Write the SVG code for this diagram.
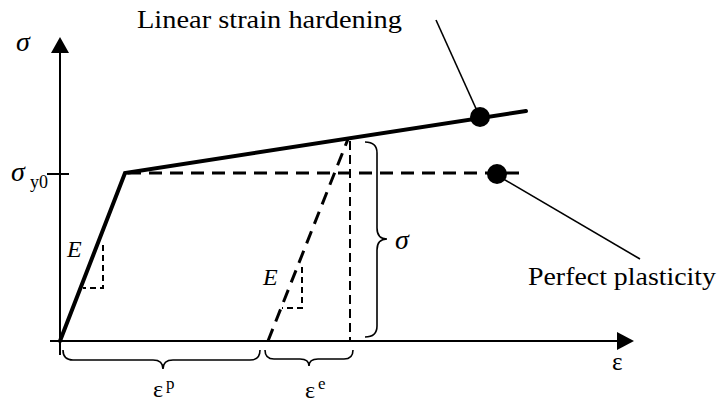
<svg xmlns="http://www.w3.org/2000/svg" width="719" height="405" viewBox="0 0 719 405">
<style>
text{font-family:"Liberation Serif","Times New Roman",serif;fill:#000}
.it{font-style:italic}
.axis{stroke:#000;stroke-width:2;fill:none}
.thick{stroke:#000;stroke-width:4;fill:none;stroke-linecap:round}
.dash{stroke:#000;stroke-width:3;fill:none;stroke-dasharray:13 8}
.dashv{stroke:#000;stroke-width:2;fill:none;stroke-dasharray:9 5}
.dashs{stroke:#000;stroke-width:2;fill:none;stroke-dasharray:6 4}
.lead{stroke:#000;stroke-width:1.6;fill:none}
.brace{stroke:#000;stroke-width:1.6;fill:none}
</style>
<rect width="719" height="405" fill="#fff"/>
<g id="axes">
<line class="axis" x1="60" y1="50" x2="60" y2="355"/>
<polygon points="60,37 51,53 69,53" fill="#000"/>
<line class="axis" x1="50" y1="341" x2="620" y2="341"/>
<polygon points="634,341 617,332 617,350" fill="#000"/>
<line class="axis" x1="47" y1="174" x2="69" y2="174"/>
<text x="16" y="51" font-size="28" class="it">σ</text>
<text x="612" y="370" font-size="25">ε</text>
<text x="11" y="181" font-size="28" class="it">σ</text>
<text x="30" y="188" font-size="18">y0</text>
</g>
<g id="curves">
<polyline class="thick" points="60,341 125,173 526,111"/>
<line class="dash" x1="128" y1="173" x2="522" y2="173"/>
<line class="dash" x1="268" y1="341" x2="348" y2="139"/>
<line class="dashv" x1="350" y1="141" x2="350" y2="341"/>
<polyline class="dashs" points="103,245 103,288 83,288"/>
<polyline class="dashs" points="302,267 302,308 282,308"/>
<text x="67" y="257" font-size="24" class="it">E</text>
<text x="263" y="285" font-size="24" class="it">E</text>
</g>
<g id="braces">
<path class="brace" d="M365,142 Q377,142 377,153 L377,228 Q377,239 387,239 Q377,239 377,250 L377,326 Q377,337 365,337"/>
<text x="395" y="249" font-size="28" class="it">σ</text>
<path class="brace" d="M63,350 Q63,360 73,360 L153,360 Q163,360 163,369 Q163,360 173,360 L250,360 Q260,360 260,350"/>
<text x="153" y="397" font-size="24">ε</text>
<text x="166" y="389" font-size="17">p</text>
<path class="brace" d="M265,350 Q265,359 274,359 L300,359 Q309,359 309,366 Q309,359 318,359 L344,359 Q353,359 353,350"/>
<text x="305" y="398" font-size="24">ε</text>
<text x="318" y="389" font-size="17">e</text>
</g>
<g id="node-hardening">
<circle cx="480" cy="117" r="10" fill="#000"/>
<text x="137" y="28" font-size="26" textLength="265" lengthAdjust="spacingAndGlyphs">Linear strain hardening</text>
</g>
<g id="node-plasticity">
<circle cx="497" cy="174" r="10" fill="#000"/>
<text x="528" y="285" font-size="26" textLength="188" lengthAdjust="spacingAndGlyphs">Perfect plasticity</text>
</g>
<g id="connectors">
<line class="lead" x1="436" y1="20" x2="478" y2="113"/>
<line class="lead" x1="500" y1="177" x2="640" y2="259"/>
</g>
</svg>
